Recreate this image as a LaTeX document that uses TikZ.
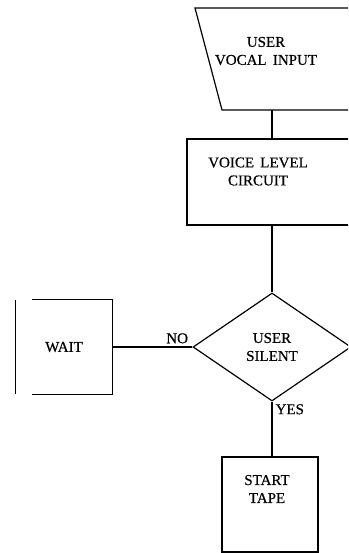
\documentclass[tikz,border=0pt]{standalone}
\usepackage{fontspec}
\setmainfont{Liberation Serif}
\newfontfamily\typed{Liberation Serif}[FakeBold=0.5]
\usetikzlibrary{shapes.geometric}
\tikzset{
  every node/.style={font=\typed\fontsize{15}{18}\selectfont},
  flow/.style={line width=1.2pt,draw=black},
  box/.style={rectangle,draw=black,line width=1.2pt,inner sep=0pt},
  test/.style={diamond,draw=black,line width=1.2pt,inner sep=0pt,minimum width=158pt,minimum height=108pt},
  caption/.style={align=center,inner sep=0pt},
  tag/.style={inner sep=3pt}
}
\begin{document}
\begin{tikzpicture}[x=1pt,y=-1pt]
\useasboundingbox (0,0) rectangle (348,553);
\clip (0,0) rectangle (348,553);
% funnel outline, right part runs off the page
\draw[flow] (405,8) -- (195,8) -- (222,110) -- (378,110) -- cycle;
\coordinate (inbase) at (272,110);
\node[caption] (input) at (266,51) {USER\\VOCAL\, INPUT};
\node[box,minimum width=170pt,minimum height=86pt] (circuit) at (272,182) {};
\node[caption] (circuittxt) at (258,171.5) {VOICE\, LEVEL\\CIRCUIT};
\node[test,align=center] (silent) at (272,347) {USER\\SILENT};
\node[minimum width=96pt,minimum height=94pt,inner sep=0pt] (wait) at (64,347) {WAIT};
\node[box,minimum width=96pt,minimum height=95pt] (start) at (270,504.5) {};
\node[caption] (starttxt) at (267,489) {START\\TAPE};

\draw[flow] (inbase) -- (circuit.north -| inbase);
\draw[flow] (circuit.south -| silent.north) -- (silent.north);
\draw[flow] ([xshift=16pt]wait.north west) -- (wait.north east) -- (wait.south east) -- ([xshift=16pt]wait.south west);
\draw[flow] (wait.north west) -- (wait.south west);
\draw[flow] (silent.west) -- node[tag,above,pos=0.19]{NO} (wait.east);
\draw[flow] (silent.south) -- node[tag,right,pos=0.14]{YES} (start.north -| silent.south);
\end{tikzpicture}
\end{document}
